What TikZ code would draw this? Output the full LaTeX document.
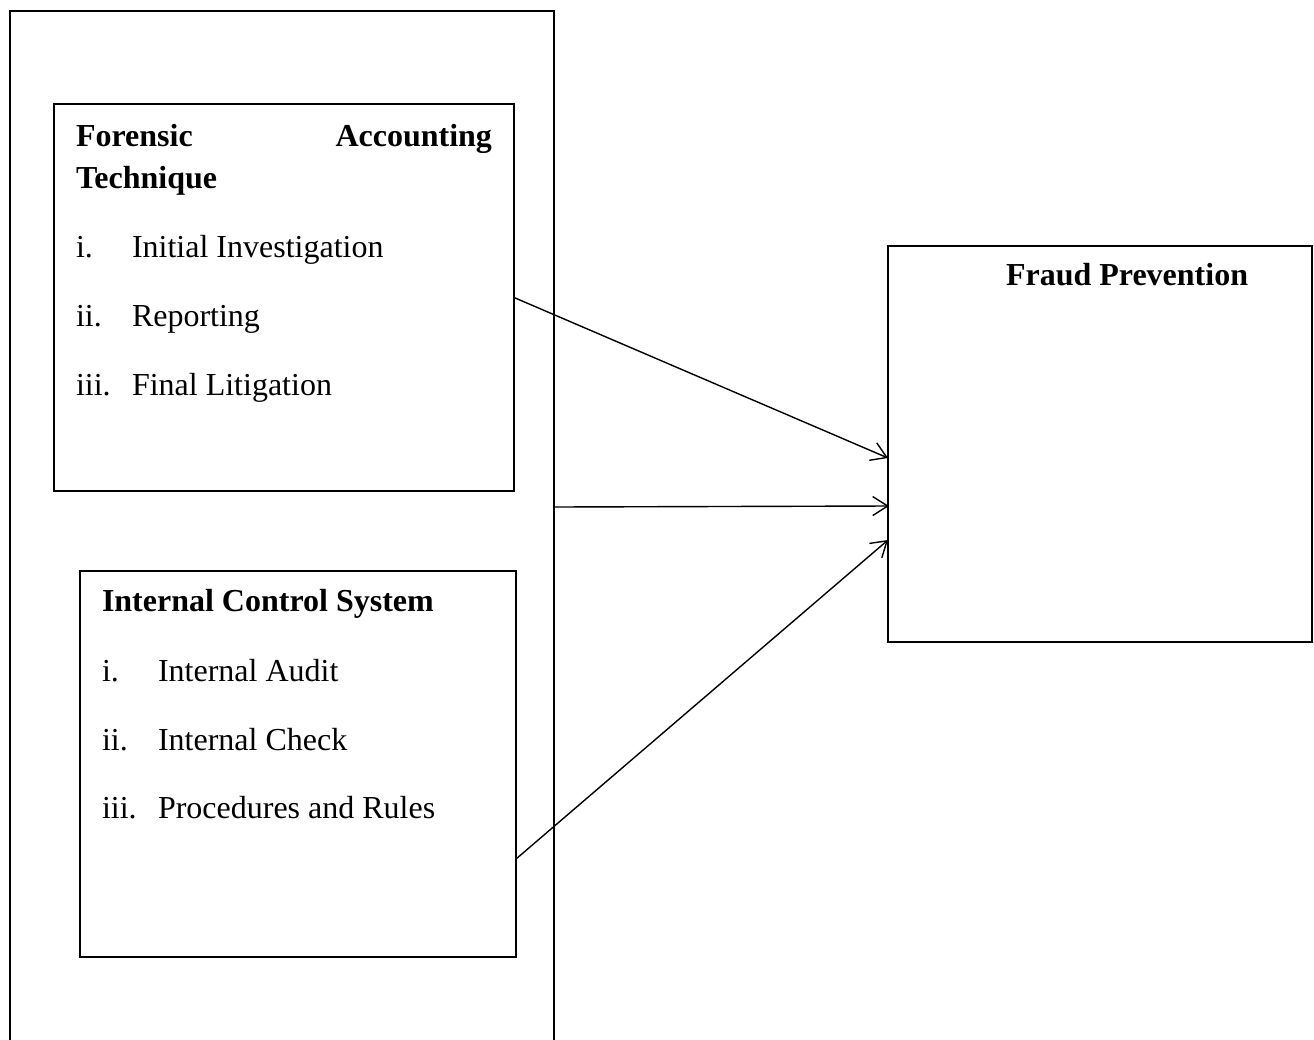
\documentclass[tikz,border=0pt]{standalone}
\usepackage{fontspec}
\setmainfont{Liberation Serif}
\usetikzlibrary{arrows.meta,calc}
\tikzset{
  boxframe/.style={draw, line width=1.25pt, rectangle, inner sep=0pt, outer sep=0pt},
  txt/.style={inner sep=0pt, outer sep=0pt, font=\fontsize{16pt}{19pt}\selectfont},
  btxt/.style={txt, font=\fontsize{16pt}{19pt}\selectfont\bfseries},
  link/.style={line width=0.7pt, -{Straight Barb[length=7.5pt,width=9.5pt,line width=0.7pt]}}
}
\begin{document}
\begin{tikzpicture}[x=0.5pt,y=-0.5pt]
\useasboundingbox (0,0) rectangle (1314,1040);
% outer frame (continues below the page)
\draw[line width=1.25pt] (10,1042) -- (10,11) -- (554,11) -- (554,1042);
\coordinate (outerE) at (554,507);
% boxes
\node[boxframe, minimum width=230pt, minimum height=193.5pt] (fa) at (284,297.5) {};
\node[boxframe, minimum width=218pt, minimum height=193pt] (ics) at (298,764) {};
\node[boxframe, minimum width=212pt, minimum height=198pt] (fp) at (1100,444) {};
% texts: forensic accounting
\node[btxt, anchor=base west] (fa1) at (76,146) {Forensic};
\node[btxt, anchor=base east] (fa2) at (492,146) {Accounting};
\node[btxt, anchor=base west] (fa3) at (76,188) {Technique};
\node[txt, anchor=base west] (fan1) at (76,257) {i.};
\node[txt, anchor=base west] (fai1) at (132,257) {Initial Investigation};
\node[txt, anchor=base west] (fan2) at (76,326) {ii.};
\node[txt, anchor=base west] (fai2) at (132,326) {Reporting};
\node[txt, anchor=base west] (fan3) at (76,395) {iii.};
\node[txt, anchor=base west] (fai3) at (132,395) {Final Litigation};
% texts: internal control
\node[btxt, anchor=base west] (ics0) at (102,611) {Internal Control System};
\node[txt, anchor=base west] (icn1) at (102,681) {i.};
\node[txt, anchor=base west] (ici1) at (158,681) {Internal Audit};
\node[txt, anchor=base west] (icn2) at (102,750) {ii.};
\node[txt, anchor=base west] (ici2) at (158,750) {Internal Check};
\node[txt, anchor=base west] (icn3) at (102,818) {iii.};
\node[txt, anchor=base west] (ici3) at (158,818) {Procedures and Rules};
% fraud prevention
\node[btxt, anchor=base west] (fp0) at (1006,285) {Fraud Prevention};
% connector endpoints
\coordinate (icsE) at (516,859);
\coordinate (fpA) at (888,458);
\coordinate (fpB) at (889,506);
\coordinate (fpC) at (888,540);
\draw[link] (fa.east) -- (fpA);
\draw[link] (outerE) -- (fpB);
\draw[link] (icsE) -- (fpC);
\end{tikzpicture}
\end{document}
